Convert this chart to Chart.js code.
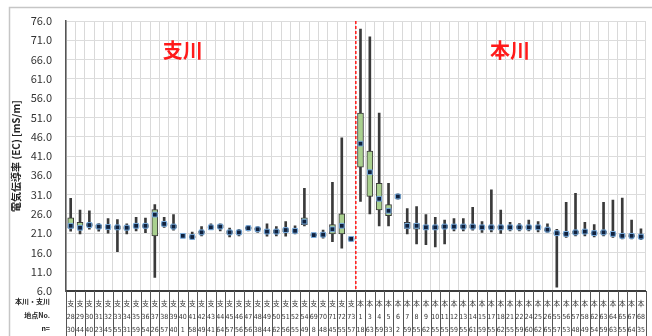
<!DOCTYPE html>
<html>
<head>
<meta charset="utf-8">
<script src="https://cdn.jsdelivr.net/npm/chart.js@4.4.1/dist/chart.umd.min.js"></script>
<style>
  html, body { margin: 0; padding: 0; background: #fff; }
  #wrap { position: relative; width: 652px; height: 336px; }
  canvas { display: block; }
</style>
</head>
<body>
<div id="wrap"><canvas id="c" width="652" height="336"></canvas></div>
<script>
// Survey points: tributaries (支) then main stream (本)
const stations = [28,29,30,31,32,33,34,35,36,37,38,39,40,41,42,43,44,45,46,47,48,49,50,51,52,54,69,70,71,72,73,
                  1,3,4,5,6,7,8,9,10,11,12,13,14,15,17,18,21,22,24,25,26,55,56,57,58,62,63,64,65,67,68];
const reach = ['支','支','支','支','支','支','支','支','支','支','支','支','支','支','支','支','支','支','支','支','支','支','支','支','支','支','支','支','支','支','支',
               '本','本','本','本','本','本','本','本','本','本','本','本','本','本','本','本','本','本','本','本','本','本','本','本','本','本','本','本','本','本','本'];
const counts = [30,44,40,23,45,55,31,59,54,26,57,40,1,58,49,41,64,57,56,56,38,44,62,56,55,49,8,48,45,55,57,
                18,63,59,33,2,59,55,62,55,55,59,55,61,59,55,62,55,59,60,62,65,57,53,48,49,54,59,63,55,64,35];

// Electrical conductivity summary per point [mS/m]
const mins = [21.5,20.8,22.0,21.5,21.0,16.2,20.8,21.6,21.1,9.5,22.5,21.8,20.3,19.3,20.3,22.0,21.6,20.0,20.3,21.6,21.2,20.2,20.3,20.2,20.8,22.9,20.1,19.7,18.8,17.1,18.9,
              29.2,26.0,22.9,22.9,29.8,20.8,18.2,18.0,17.4,18.2,21.6,21.6,21.8,21.2,21.3,20.9,21.6,21.6,21.6,21.3,21.2,7.0,19.9,20.3,20.3,20.0,20.3,19.9,19.5,19.5,19.3];
const q1s = [22.3,22.0,22.8,22.3,22.3,22.0,22.0,22.5,22.5,20.3,23.0,22.4,20.3,19.8,21.0,22.3,22.4,20.9,20.9,22.0,21.8,21.1,21.1,21.4,21.3,23.2,20.3,20.3,20.8,20.8,19.2,
             38.1,30.5,27.0,25.5,30.0,22.2,22.0,22.0,22.0,22.3,22.4,22.4,22.4,22.2,22.2,22.2,22.2,22.2,22.2,22.2,21.6,20.7,20.5,20.9,21.1,20.7,20.9,20.5,20.0,20.0,19.8];
const medians = [22.9,22.4,23.1,22.7,22.6,22.5,22.4,22.9,22.9,25.8,23.4,22.7,20.3,20.0,21.2,22.5,22.7,21.2,21.2,22.3,22.0,21.4,21.4,21.8,21.6,24.0,20.5,20.6,22.0,22.9,19.5,
                 44.2,36.8,29.9,26.8,30.5,22.9,22.9,22.5,22.5,22.7,22.7,22.7,22.7,22.5,22.5,22.5,22.5,22.5,22.5,22.5,21.9,21.0,20.8,21.2,21.4,21.0,21.2,20.8,20.3,20.3,20.1];
const q3s = [25.0,23.8,23.5,23.0,22.9,22.8,22.7,23.2,23.2,27.1,23.7,23.0,20.3,20.3,21.5,22.7,23.0,21.6,21.5,22.6,22.3,21.8,21.7,22.2,21.9,25.0,20.7,20.9,23.2,26.0,19.8,
             52.1,42.3,33.9,28.4,31.0,23.8,23.5,23.0,22.9,23.0,23.0,23.0,23.0,22.8,22.8,22.8,22.8,22.8,22.8,22.8,22.2,21.3,21.1,21.5,21.7,21.3,21.5,21.1,20.6,20.6,20.4];
const maxs = [30.0,27.0,26.8,23.5,24.8,24.5,23.4,25.1,24.9,28.4,25.1,25.8,20.3,21.3,22.7,23.4,23.4,22.3,22.0,22.9,22.7,23.4,22.7,24.0,22.9,32.6,20.9,21.8,34.2,45.7,20.2,
              73.9,71.9,52.1,33.9,31.2,27.4,27.9,25.8,25.1,24.4,24.8,24.8,27.7,24.0,32.2,27.0,23.8,23.5,24.4,24.0,23.4,22.0,29.0,31.3,23.8,23.2,29.0,29.6,30.1,24.4,22.1];

// Value axis
const yMin = 6, yMax = 76, yStep = 5;
const rowHeads = ['本川・支川', '地点No.', 'n='];
const reachTitles = ['支川', '本川'];

const tableLabels = stations.map((s, i) => [reach[i], String(s), String(counts[i])]);
const whiskers = mins.map((v, i) => [v, maxs[i] === v ? v + 0.05 : maxs[i]]);
const boxes = q1s.map((v, i) => [v, q3s[i]]);

const cjk = '"Noto Sans CJK JP", "Noto Sans", sans-serif';
const narrow = '"Liberation Sans Narrow", "DejaVu Sans Condensed", "Liberation Sans", "Noto Sans CJK JP", sans-serif';

const decor = {
  id: 'decor',
  beforeDraw(chart) {
    const ctx = chart.ctx;
    ctx.save();
    ctx.fillStyle = '#ffffff';
    ctx.fillRect(0, 0, chart.width, chart.height);
    ctx.strokeStyle = '#c6c6c6';
    ctx.lineWidth = 1.5;
    ctx.beginPath();
    ctx.moveTo(9.5, chart.height);
    ctx.lineTo(9.5, 7.5);
    ctx.lineTo(chart.width, 7.5);
    ctx.stroke();
    ctx.restore();
  },
  afterDraw(chart) {
    const { ctx, chartArea: a, scales: { x, y } } = chart;
    const half = (x.getPixelForValue(1) - x.getPixelForValue(0)) / 2;
    ctx.save();
    // table cell dividers
    ctx.strokeStyle = '#555';
    ctx.lineWidth = 1;
    ctx.beginPath();
    for (let i = 0; i <= stations.length; i++) {
      const px = Math.round(x.getPixelForValue(i) - half) + 0.5;
      ctx.moveTo(px, a.bottom);
      ctx.lineTo(px, chart.height);
    }
    ctx.stroke();
    // row headers
    ctx.fillStyle = '#222';
    ctx.font = 'bold 7px ' + cjk;
    ctx.textAlign = 'right';
    ctx.textBaseline = 'middle';
    const rowY = [a.bottom + 10.5, a.bottom + 24, a.bottom + 37];
    rowHeads.forEach((t, i) => ctx.fillText(t, a.left - 16, rowY[i]));
    // boundary between tributaries and main stream
    const split = (x.getPixelForValue(30) + x.getPixelForValue(31)) / 2;
    ctx.strokeStyle = '#ff1a1a';
    ctx.lineWidth = 1.5;
    ctx.setLineDash([3, 2]);
    ctx.beginPath();
    ctx.moveTo(split, a.top);
    ctx.lineTo(split, a.bottom);
    ctx.stroke();
    ctx.setLineDash([]);
    // reach titles
    ctx.fillStyle = '#ff1a1a';
    ctx.font = 'bold 20px ' + cjk;
    ctx.textAlign = 'center';
    ctx.fillText(reachTitles[0], x.getPixelForValue(12), y.getPixelForValue(68.5));
    ctx.fillText(reachTitles[1], x.getPixelForValue(47), y.getPixelForValue(68.5));
    ctx.restore();
  }
};

new Chart(document.getElementById('c'), {
  type: 'bar',
  data: {
    labels: tableLabels,
    datasets: [
      {
        type: 'line',
        data: medians,
        showLine: false,
        pointStyle: 'rect',
        pointRadius: 3.4,
        pointBackgroundColor: '#10213d',
        pointBorderColor: '#7aaee0',
        pointBorderWidth: 1,
        order: 0
      },
      {
        data: boxes,
        grouped: false,
        barThickness: 6,
        backgroundColor: '#a9d08e',
        borderColor: '#3b3b3b',
        borderWidth: 1,
        borderSkipped: false,
        order: 1
      },
      {
        data: whiskers,
        grouped: false,
        barThickness: 2,
        backgroundColor: '#3a3a3a',
        borderWidth: 0,
        order: 2
      }
    ]
  },
  options: {
    responsive: false,
    devicePixelRatio: 1,
    animation: false,
    layout: { padding: { top: 21, right: 4, left: 0, bottom: 0 } },
    plugins: { legend: { display: false }, tooltip: { enabled: false } },
    scales: {
      x: {
        offset: true,
        grid: { offset: true, color: '#d9d9d9', lineWidth: 1, drawTicks: false },
        border: { color: '#3c3c3c', width: 2 },
        ticks: {
          autoSkip: false, maxRotation: 0, minRotation: 0, padding: 7,
          color: '#333',
          font: { family: narrow, size: 7, lineHeight: 1.86 }
        },
        afterFit(scale) { scale.height = 45; }
      },
      y: {
        min: yMin, max: yMax,
        grid: { color: '#dcdcdc', lineWidth: 1, drawTicks: false },
        border: { color: '#555', width: 1.5 },
        ticks: {
          stepSize: yStep, padding: 14, color: '#333',
          font: { family: cjk, size: 11 },
          callback: v => Number(v).toFixed(1)
        },
        title: {
          display: true,
          text: '電気伝導率 (EC) [mS/m]',
          color: '#222',
          font: { family: cjk, size: 10, weight: 'bold' },
          padding: { top: 10, bottom: 0 }
        },
        afterFit(scale) { scale.width = 66; }
      }
    }
  },
  plugins: [decor]
});
</script>
</body>
</html>
